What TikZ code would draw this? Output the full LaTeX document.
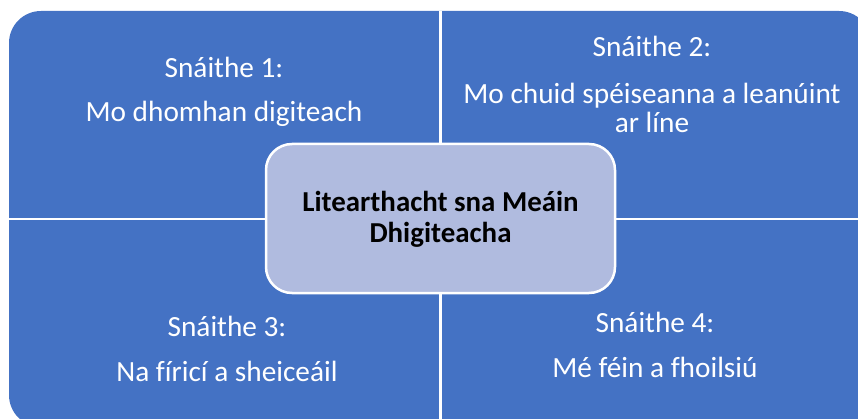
\documentclass[tikz,border=0pt]{standalone}
\usepackage{fontspec}
\setmainfont{Carlito}[Ligatures=NoCommon]
\definecolor{qblue}{RGB}{68,114,196}
\definecolor{cfill}{RGB}{176,187,223}
\begin{document}
\begin{tikzpicture}[x=1pt,y=-1pt,
  lbl/.style={text=white,font=\fontsize{29.3}{32}\selectfont,anchor=base,inner sep=0pt},
  ctrtxt/.style={text=black,font=\bfseries\fontsize{28.9}{31}\selectfont,anchor=base,inner sep=0pt},
  corebox/.style={draw=white,line width=2.5pt,fill=cfill,rounded corners=26pt,
    minimum width=349pt,minimum height=149pt,inner sep=0pt},
  divider/.style={white,line width=2.8pt}]
\useasboundingbox (0,0) rectangle (858,419);
\clip (0,0) rectangle (858,419);
\fill[qblue,rounded corners=32pt] (9,11) rectangle (871,427);
\draw[divider] (440.5,11) -- (440.5,427);
\draw[divider] (9,219) -- (871,219);
\node[corebox] (core) at (440.5,218.5) {};
\node[ctrtxt] (c1) at (440.5,212) {Litearthacht sna Meáin};
\node[ctrtxt] (c2) at (440.5,243) {Dhigiteacha};
\node[lbl] (q1a) at (224,78) {Snáithe 1:};
\node[lbl] (q1b) at (224,122) {Mo dhomhan digiteach};
\node[lbl] (q2a) at (652,57) {Snáithe 2:};
\node[lbl] (q2b) at (652,104) {Mo chuid spéiseanna a leanúint};
\node[lbl] (q2c) at (652,133) {ar líne};
\node[lbl] (q3a) at (227,336) {Snáithe 3:};
\node[lbl] (q3b) at (227,381) {Na fíricí a sheiceáil};
\node[lbl] (q4a) at (655,332) {Snáithe 4:};
\node[lbl] (q4b) at (655,377) {Mé féin a fhoilsiú};
\end{tikzpicture}
\end{document}
